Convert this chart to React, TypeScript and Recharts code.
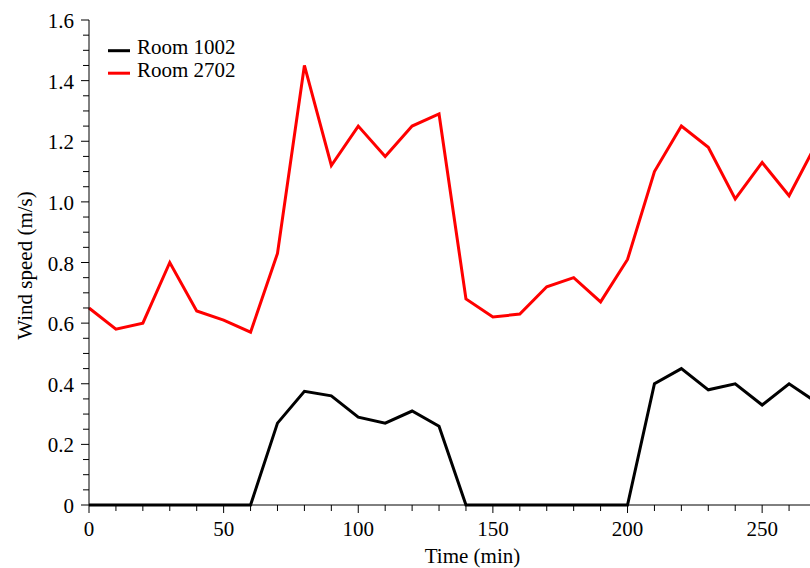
import React from 'react'
import { LineChart, Line, XAxis, YAxis, Legend } from 'recharts'

// time in minutes, sampled every 10 min
const time = [0, 10, 20, 30, 40, 50, 60, 70, 80, 90, 100, 110, 120, 130, 140, 150, 160, 170, 180, 190, 200, 210, 220, 230, 240, 250, 260, 270]

// wind speed (m/s)
const room1002 = [0, 0, 0, 0, 0, 0, 0, 0.27, 0.375, 0.36, 0.29, 0.27, 0.31, 0.26, 0, 0, 0, 0, 0, 0, 0, 0.4, 0.45, 0.38, 0.4, 0.33, 0.4, 0.34]
const room2702 = [0.65, 0.58, 0.6, 0.8, 0.64, 0.61, 0.57, 0.83, 1.45, 1.12, 1.25, 1.15, 1.25, 1.29, 0.68, 0.62, 0.63, 0.72, 0.75, 0.67, 0.81, 1.1, 1.25, 1.18, 1.01, 1.13, 1.02, 1.19]

// every 10 min, labels on multiples of 50
const xTicks = [0, 10, 20, 30, 40, 50, 60, 70, 80, 90, 100, 110, 120, 130, 140, 150, 160, 170, 180, 190, 200, 210, 220, 230, 240, 250, 260, 270]
// every 0.05, labels on multiples of 0.2
const yTicks = [0, 0.05, 0.1, 0.15, 0.2, 0.25, 0.3, 0.35, 0.4, 0.45, 0.5, 0.55, 0.6, 0.65, 0.7, 0.75, 0.8, 0.85, 0.9, 0.95, 1.0, 1.05, 1.1, 1.15, 1.2, 1.25, 1.3, 1.35, 1.4, 1.45, 1.5, 1.55, 1.6]

const data = time.map((t, i) => ({ time: t, room1002: room1002[i], room2702: room2702[i] }))

const textStyle: React.CSSProperties = {
    fontFamily: 'Liberation Serif, Times New Roman, Times, serif',
    fontSize: 21,
    fill: '#000',
}

const XTick = (props: any) => {
    const { x, y, payload } = props
    const v = payload.value
    const major = v % 50 === 0
    return (
        <g>
            <line x1={x} x2={x} y1={y} y2={y + (major ? 8 : 6)} stroke="#000" strokeWidth={1} />
            {major && v <= 250 && (
                <text x={x} y={y + 31} textAnchor="middle" style={textStyle}>
                    {v}
                </text>
            )}
        </g>
    )
}

const YTick = (props: any) => {
    const { x, y, payload } = props
    const v = payload.value
    const major = Math.abs(v * 5 - Math.round(v * 5)) < 1e-6
    return (
        <g>
            <line x1={x} x2={x - (major ? 8 : 6)} y1={y} y2={y} stroke="#000" strokeWidth={1} />
            {major && (
                <text x={x - 15} y={y + 8} textAnchor="end" style={textStyle}>
                    {v === 0 ? '0' : v.toFixed(1)}
                </text>
            )}
        </g>
    )
}

const renderLegend = (props: any) => {
    const items = props.payload || []
    return (
        <svg width={160} height={50} style={{ display: 'block', overflow: 'visible' }}>
            {items.map((item: any, i: number) => (
                <g key={item.value}>
                    <line x1={0} x2={22} y1={11.7 + i * 22.5} y2={11.7 + i * 22.5} stroke={item.color} strokeWidth={3} />
                    <text x={29} y={15.3 + i * 22.5} style={textStyle}>
                        {item.value}
                    </text>
                </g>
            ))}
        </svg>
    )
}

const XLabel = (props: any) => {
    const vb = props.viewBox
    return (
        <text x={vb.x + vb.width / 2 + 20} y={vb.y + 58} textAnchor="middle" style={textStyle}>
            Time (min)
        </text>
    )
}

const YLabel = (props: any) => {
    const vb = props.viewBox
    const cx = vb.x + 32
    const cy = vb.y + vb.height / 2 + 3
    return (
        <text x={cx} y={cy} transform={`rotate(-90, ${cx}, ${cy})`} textAnchor="middle" style={textStyle}>
            Wind speed (m/s)
        </text>
    )
}

export default function App() {
    return (
        <div style={{ position: 'absolute', left: 0, top: 0, width: 810, height: 568, overflow: 'hidden', background: '#fff' }}>
            <LineChart
                width={816}
                height={568}
                data={data}
                margin={{ top: 20, right: 0, left: 0, bottom: 0 }}
            >
                <XAxis
                    dataKey="time"
                    type="number"
                    domain={[0, 270]}
                    ticks={xTicks}
                    interval={0}
                    height={63}
                    tickSize={0}
                    tickMargin={0}
                    tickLine={false}
                    tick={<XTick />}
                    axisLine={{ stroke: '#000', strokeWidth: 1 }}
                    label={<XLabel />}
                />
                <YAxis
                    type="number"
                    domain={[0, 1.6]}
                    ticks={yTicks}
                    interval={0}
                    width={89}
                    tickSize={0}
                    tickMargin={0}
                    tickLine={false}
                    tick={<YTick />}
                    axisLine={{ stroke: '#000', strokeWidth: 1 }}
                    label={<YLabel />}
                />
                <Legend
                    layout="vertical"
                    align="center"
                    verticalAlign="middle"
                    content={renderLegend}
                    wrapperStyle={{ left: 108, top: 39, width: 160, height: 50 }}
                />
                <Line
                    type="linear"
                    dataKey="room1002"
                    name="Room 1002"
                    stroke="#000000"
                    strokeWidth={3}
                    dot={false}
                    isAnimationActive={false}
                />
                <Line
                    type="linear"
                    dataKey="room2702"
                    name="Room 2702"
                    stroke="#ff0000"
                    strokeWidth={3}
                    dot={false}
                    isAnimationActive={false}
                />
            </LineChart>
        </div>
    )
}
